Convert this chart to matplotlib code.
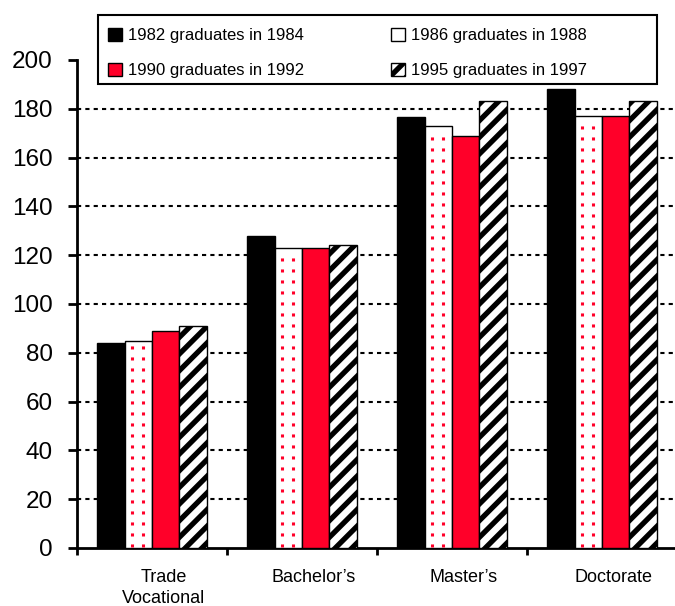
import numpy as np
import matplotlib
matplotlib.use("Agg")
import matplotlib.pyplot as plt
import matplotlib.transforms as mtransforms
from matplotlib.patches import Patch, Rectangle

plt.rcParams['font.family'] = ['Liberation Sans', 'DejaVu Sans']
plt.rcParams['hatch.linewidth'] = 3.8

categories = ['Trade\nVocational', "Bachelor\u2019s", "Master\u2019s", 'Doctorate']
series_names = ['1982 graduates in 1984', '1986 graduates in 1988',
                '1990 graduates in 1992', '1995 graduates in 1997']
# values per cohort, in category order
v1982 = [84, 128, 176.5, 188]
v1986 = [85, 123, 173, 177]
v1990 = [89, 123, 169, 177]
v1995 = [91, 124, 183, 183]
yticks = [0, 20, 40, 60, 80, 100, 120, 140, 160, 180, 200]

red = '#ff0029'

fig = plt.figure(figsize=(6.75, 6.06), dpi=100)
ax = fig.add_axes([77 / 675, 58 / 606, 600 / 675, 488 / 606])

x = np.arange(len(categories)) + 0.5
w = 0.183

b1 = ax.bar(x - 1.5 * w, v1982, w, color='black', edgecolor='black', lw=1, zorder=3)
b2 = ax.bar(x - 0.5 * w, v1986, w, color='white', edgecolor='black', lw=1, zorder=3)
b3 = ax.bar(x + 0.5 * w, v1990, w, color=red, edgecolor='black', lw=1, zorder=3)
b4 = ax.bar(x + 1.5 * w, v1995, w, color='white', edgecolor='black', hatch='//', lw=1, zorder=3)

# red dotted columns inside the white bars
for r in b2:
    x0, bw, h = r.get_x(), r.get_width(), r.get_height()
    ax.vlines([x0 + 0.27 * bw, x0 + 0.68 * bw], 0.5, h - 1.5, colors=red,
              linestyles=(0, (1, 2.6)), lw=2.2, zorder=4)

ax.set_xlim(0, 4)
ax.set_ylim(0, 200)
ax.set_yticks(yticks)
ax.tick_params(axis='y', labelsize=17.5, direction='out', length=6.5, width=2, pad=11)

ax.set_xticks([0, 1, 2, 3, 4])
ax.set_xticklabels([])
ax.set_xticks(x, minor=True)
ax.set_xticklabels(categories, minor=True, fontsize=13, linespacing=1.35)
ax.tick_params(axis='x', which='major', direction='out', length=5, width=2)
ax.tick_params(axis='x', which='minor', length=0, pad=15)
shift = mtransforms.ScaledTranslation(12 / 100, 0, fig.dpi_scale_trans)
for lab in ax.get_xticklabels(minor=True):
    lab.set_transform(lab.get_transform() + shift)

ax.set_axisbelow(True)
ax.yaxis.grid(True, color='black', linestyle=(0, (2, 2)), lw=1.5)
gl = ax.get_ygridlines()
gl[0].set_visible(False)
gl[-1].set_visible(False)

for s in ['top', 'right']:
    ax.spines[s].set_visible(False)
ax.spines['left'].set_linewidth(2)
ax.spines['bottom'].set_linewidth(2)

handles = [
    Patch(facecolor='black', edgecolor='black'),
    Patch(facecolor='white', edgecolor='black'),
    Patch(facecolor=red, edgecolor='black'),
    Patch(facecolor='white', edgecolor='black', hatch='//'),
]
order = [0, 2, 1, 3]
leg = fig.legend([handles[i] for i in order], [series_names[i] for i in order],
                 ncol=2, loc='upper left',
                 bbox_to_anchor=(98 / 675, 1 - 18 / 606),
                 borderaxespad=0, fontsize=12, frameon=False,
                 handlelength=0.85, handleheight=0.8, columnspacing=5.2,
                 handletextpad=0.35, labelspacing=1.2, borderpad=0.6)
fig.patches.append(Rectangle((98 / 675, 1 - 84 / 606), 559 / 675, 69 / 606,
                             transform=fig.transFigure, fill=False,
                             edgecolor='black', lw=1.5))

fig.savefig('out.png', dpi=100)
